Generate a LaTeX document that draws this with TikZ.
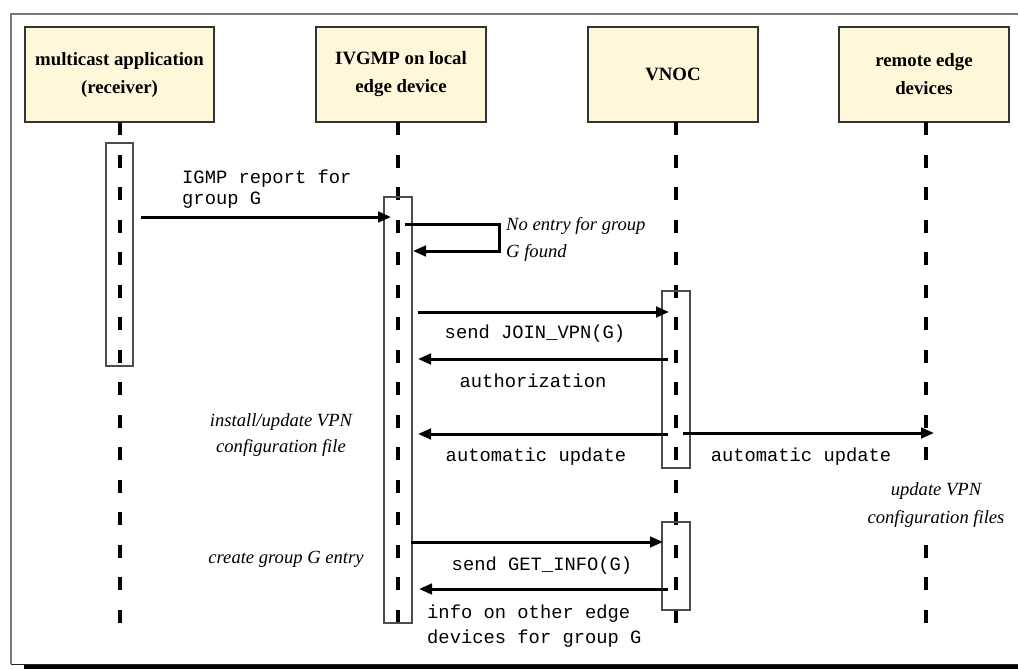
\documentclass[tikz,border=0pt]{standalone}
\usepackage{fontspec}
\setmainfont{Liberation Serif}
\setmonofont{Liberation Mono}
\usetikzlibrary{arrows.meta}
\definecolor{partfill}{RGB}{255,247,218}
\definecolor{framegray}{RGB}{120,120,120}
\begin{document}
\begin{tikzpicture}[x=1pt,y=-1pt,
  part/.style={draw=black!80, line width=1.3pt, fill=partfill, minimum height=95pt,
    align=center, inner sep=0pt, font=\bfseries\fontsize{18.8}{28}\selectfont},
  lifeline/.style={line width=4.6pt, dash pattern=on 13pt off 19.53pt},
  actbox/.style={draw=black!70, line width=1.2pt},
  msg/.style={line width=3pt, -{Triangle[length=13pt,width=10.5pt]}},
  ttlab/.style={inner sep=0pt, font=\ttfamily\fontsize{18.8}{21}\selectfont},
  note/.style={inner sep=0pt, font=\itshape\fontsize{18.6}{27}\selectfont}]
\useasboundingbox (0,0) rectangle (1018,669);
% frame with shadow
\fill[black] (24,664.5) rectangle (1030,680);
\draw[framegray, line width=1.6pt] (11,664) |- (1030,14);
\draw[black!85, line width=1pt] (11,664) -- (1030,664);
% participants
\node[part, minimum width=189pt] (p1) at (119.5,74.5) {multicast application\\(receiver)};
\node[part, minimum width=170pt] (p2) at (401,74.5) {IVGMP on local\\edge device};
\node[part, minimum width=170pt] (p3) at (673,74.5) {VNOC};
\node[part, minimum width=170pt] (p4) at (924,74.5) {remote edge\\devices};
% lifelines
\coordinate (l1t) at (120,122); \coordinate (l1b) at (120,623);
\coordinate (l2t) at (398,122); \coordinate (l2b) at (398,623);
\coordinate (l3t) at (676,122); \coordinate (l3b) at (676,623);
\coordinate (l4t) at (926,122); \coordinate (l4b) at (926,623);
\draw[lifeline] (l1t) -- (l1b);
\draw[lifeline] (l2t) -- (l2b);
\draw[lifeline] (l3t) -- (l3b);
\draw[lifeline] (l4t) -- (l4b);
% activation boxes
\draw[actbox] (106,143) rectangle (133,366);
\draw[actbox] (384,197) rectangle (412,623);
\draw[actbox] (662,291) rectangle (690,468);
\draw[actbox] (662,522) rectangle (690,610);
% message endpoints
\coordinate (m1s) at (141,217); \coordinate (m1e) at (391,217);
\coordinate (m2s) at (405,224); \coordinate (m2c) at (499,224); \coordinate (m2e) at (413,251);
\coordinate (m3s) at (418,312); \coordinate (m3e) at (669,312);
\coordinate (m4s) at (668,359); \coordinate (m4e) at (418,359);
\coordinate (m5s) at (668,434); \coordinate (m5e) at (418,434);
\coordinate (m6s) at (683,433); \coordinate (m6e) at (934,433);
\coordinate (m7s) at (411,542); \coordinate (m7e) at (663,542);
\coordinate (m8s) at (668,589); \coordinate (m8e) at (419,589);
% messages
\draw[msg] (m1s) -- (m1e);
\draw[msg] (m2s) -- (m2c) |- (m2e);
\draw[msg] (m3s) -- (m3e);
\draw[msg] (m4s) -- (m4e);
\draw[msg] (m5s) -- (m5e);
\draw[msg] (m6s) -- (m6e);
\draw[msg] (m7s) -- (m7e);
\draw[msg] (m8s) -- (m8e);
% labels
\node[ttlab, anchor=west, align=left] (t1) at (182,189.5) {IGMP report for\\group G};
\node[note, anchor=west, align=left] (n1) at (506,239) {No entry for group\\G found};
\node[ttlab] (t3) at (535,334) {send JOIN\_VPN(G)};
\node[ttlab] (t4) at (533,381) {authorization};
\node[note, align=center, font=\itshape\fontsize{18.6}{26}\selectfont] (n2) at (281,435) {install/update VPN\\configuration file};
\node[ttlab] (t5) at (536,457) {automatic update};
\node[ttlab] (t6) at (801,457) {automatic update};
\node[note, align=center, fill=white, inner xsep=2pt, inner ysep=7pt, font=\itshape\fontsize{18.6}{28}\selectfont] (n3) at (936,505) {update VPN\\configuration files};
\node[note] (n4) at (286,559) {create group G entry};
\node[ttlab] (t7) at (542,566) {send GET\_INFO(G)};
\node[ttlab, anchor=west, align=left, font=\ttfamily\fontsize{18.8}{25}\selectfont] (t8) at (427,626) {info on other edge\\devices for group G};
\end{tikzpicture}
\end{document}
